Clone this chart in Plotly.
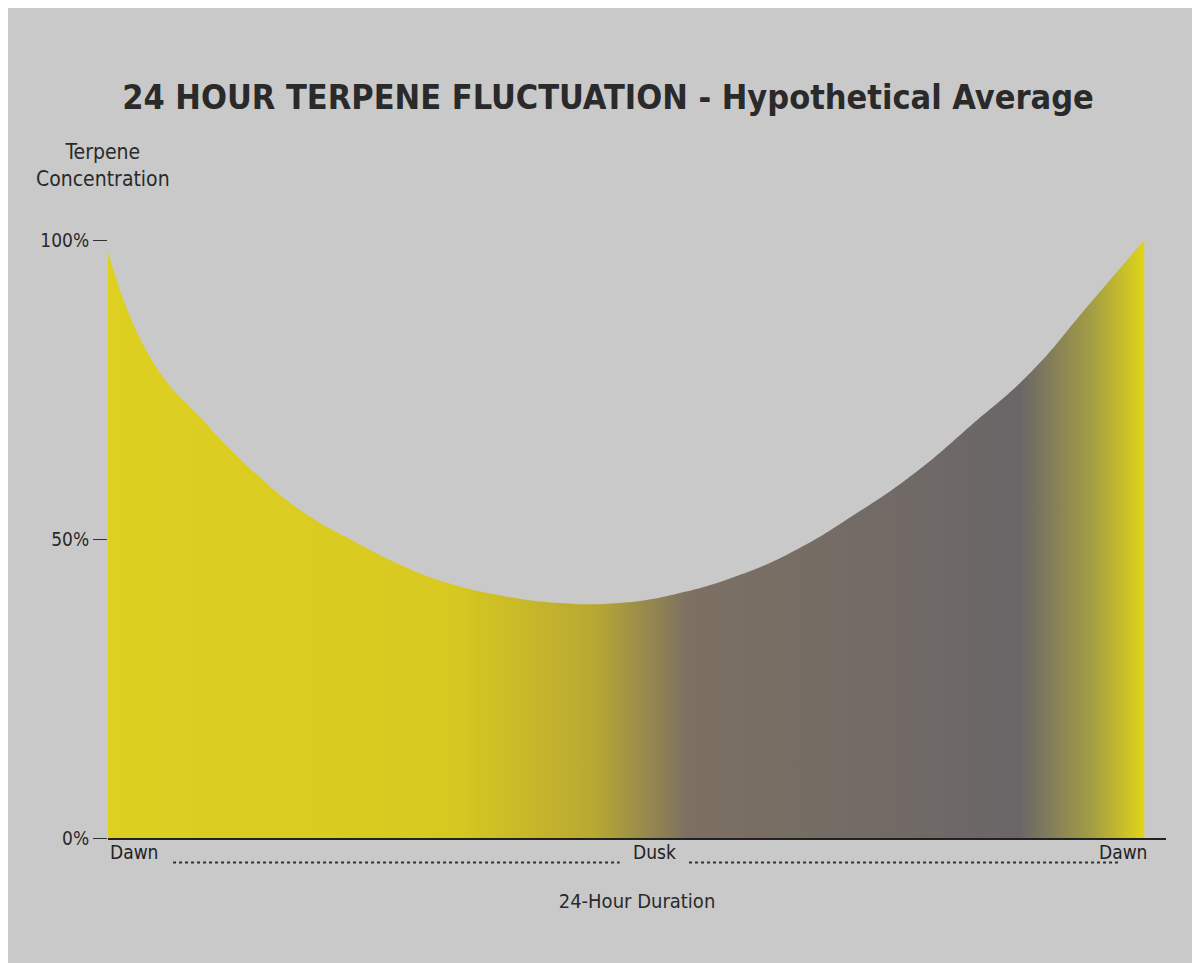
import plotly.graph_objects as go

hours = [0, 1.0, 2.3, 3.4, 4.5, 5.7, 6.8, 7.9, 9.1, 10.4, 11.8, 13.1, 14.5, 15.9, 17.2, 18.6, 19.9, 21.3, 22.6, 23.9]
conc = [98, 80, 69, 61, 54.5, 49.5, 45.5, 42.5, 40.5, 39.3, 39.3, 40.8, 43.8, 48.3, 54, 61, 69, 78, 89, 100]
tick_vals = [0, 50, 100]
tick_text = ["0%", "50%", "100%"]
font = "DejaVu Sans Condensed, Roboto, sans-serif"

fig = go.Figure()
fig.add_trace(go.Scatter(
    x=hours, y=conc, mode="lines", line=dict(width=0, shape="spline", smoothing=1.3),
    fill="tozeroy",
    fillgradient=dict(type="horizontal", colorscale=[
        [0, "#ddd020"], [0.33, "#d8c920"], [0.47, "#b8a832"], [0.56, "#7c7062"],
        [0.88, "#6a6668"], [0.95, "#a49e44"], [1, "#e0d418"]]),
    hoverinfo="skip", showlegend=False,
))

# x labels with dotted leaders
for x, txt, anc in [(0, "Dawn", "left"), (12.6, "Dusk", "center"), (24, "Dawn", "right")]:
    fig.add_annotation(x=x, y=-0.045, xref="x", yref="paper", text=txt, showarrow=False,
                       xanchor=anc, font=dict(family=font, size=19, color="#222"))
for x0, x1 in [(1.5, 11.8), (13.4, 23.3)]:
    fig.add_shape(type="line", xref="x", yref="paper", x0=x0, x1=x1, y0=-0.041, y1=-0.041,
                  line=dict(color="#333", width=2, dash="dot"))

fig.update_layout(
    width=1200, height=963,
    paper_bgcolor="#c9c9c9", plot_bgcolor="#c9c9c9",
    margin=dict(l=100, r=42, t=232, b=133),
    title=dict(text="<b>24 HOUR TERPENE FLUCTUATION - Hypothetical Average</b>",
               x=0.5, y=0.92, xanchor="center",
               font=dict(family=font, size=34, color="#2a2a2a")),
    font=dict(family=font, color="#2a2a2a"),
    xaxis=dict(range=[0, 24.4], showgrid=False, showticklabels=False, zeroline=False,
               showline=True, linecolor="#222", linewidth=2,
               title=dict(text="24-Hour Duration", font=dict(size=20), standoff=55)),
    yaxis=dict(range=[0, 100], tickvals=tick_vals, ticktext=tick_text, showgrid=False,
               zeroline=False, ticks="outside", ticklen=14, tickcolor="#333",
               tickfont=dict(size=19)),
)
fig.add_annotation(x=-0.005, y=1.17, xref="paper", yref="paper", text="Terpene<br>Concentration",
                   showarrow=False, xanchor="center", font=dict(family=font, size=21, color="#2a2a2a"))

fig.write_html("out.html")
